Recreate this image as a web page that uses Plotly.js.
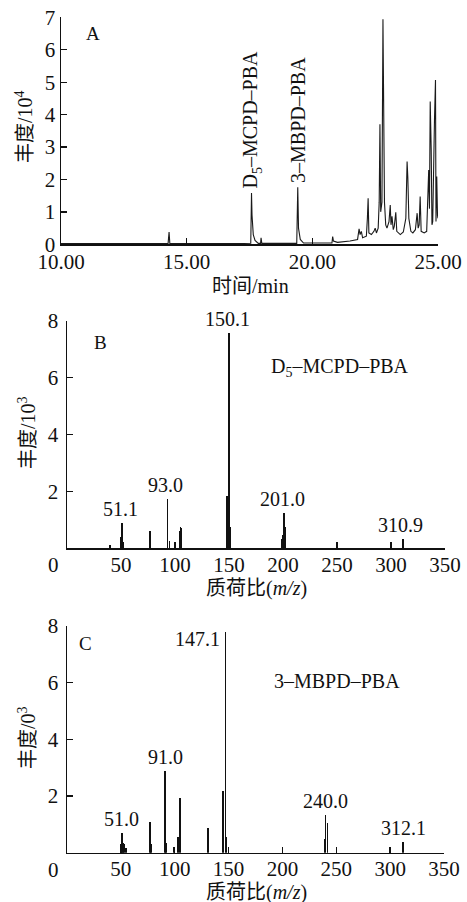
<!DOCTYPE html>
<html>
<head>
<meta charset="utf-8">
<script src="https://cdn.plot.ly/plotly-3.0.1.min.js"></script>
<style>html,body{margin:0;padding:0;background:#fff;}#chart{width:467px;height:902px;}</style>
</head>
<body>
<div id="chart"></div>
<script>
// ---------- Panel A: total ion chromatogram (time in min, abundance in 10^4) ----------
const timeA = [10.00,12.00,14.26,14.30,14.33,17.00,17.55,17.58,17.60,17.65,17.72,17.85,17.94,17.96,17.99,
  19.38,19.42,19.45,19.52,19.65,20.78,20.81,20.84,21.00,21.50,21.80,21.86,21.90,21.95,22.00,22.15,22.19,22.22,22.25,
  22.35,22.45,22.50,22.55,22.62,22.66,22.69,22.72,22.77,22.81,22.83,22.87,22.92,22.97,23.05,23.10,23.13,23.17,23.22,
  23.26,23.32,23.36,23.50,23.62,23.72,23.77,23.80,23.84,23.92,24.00,24.10,24.17,24.21,24.25,24.29,24.33,24.45,24.55,
  24.63,24.66,24.69,24.73,24.76,24.79,24.86,24.90,24.92,24.95,24.98,25.00];
const abundA = [0.02,0.02,0.02,0.38,0.03,0.02,0.03,1.58,0.90,0.30,0.12,0.03,0.03,0.20,0.03,
  0.03,1.76,0.50,0.15,0.04,0.04,0.24,0.10,0.06,0.10,0.15,0.48,0.30,0.40,0.20,0.25,0.80,1.42,0.35,
  0.30,0.40,0.50,0.35,0.50,1.30,3.70,1.00,1.30,6.94,4.85,1.30,0.60,0.50,0.70,1.21,0.60,0.86,0.45,
  0.55,0.99,0.40,0.30,0.38,0.80,2.55,2.05,0.80,0.40,0.35,0.45,0.96,0.50,0.60,1.47,0.40,0.35,0.40,
  2.29,1.10,4.40,2.91,0.60,0.70,3.83,5.07,0.70,2.09,0.90,0.80];
const ticksA = [10, 15, 20, 25];
const tickTextA = ['10.00', '15.00', '20.00', '25.00'];
const compoundNamesA = ['D<sub>5</sub>–MCPD–PBA', '3–MBPD–PBA'];
const compoundTimesA = [17.58, 19.42];

// ---------- Panel B: mass spectrum of D5-MCPD-PBA (abundance in 10^3) ----------
const mzB  = [40, 50, 51, 52, 77, 93, 95, 100, 104, 105, 106, 148, 150, 151, 199, 200, 201, 202, 311];
const intB = [0.10, 0.40, 0.87, 0.20, 0.60, 1.71, 0.25, 0.22, 0.60, 0.73, 0.72, 1.83, 7.57, 0.75, 0.30, 0.45, 1.22, 0.75, 0.33];
const peakMzB = [51, 93, 150, 201, 311];
const peakTextB = ['51.1', '93.0', '150.1', '201.0', '310.9'];

// ---------- Panel C: mass spectrum of 3-MBPD-PBA (abundance in 10^3) ----------
const mzC  = [50, 51, 52, 53, 55, 77, 78, 91, 92, 99, 103, 105, 131, 145, 147, 148, 150, 239, 240, 242, 312];
const intC = [0.30, 0.71, 0.35, 0.30, 0.15, 1.09, 0.30, 2.89, 0.35, 0.20, 0.54, 1.92, 0.88, 2.16, 7.80, 0.56, 0.20, 0.50, 1.33, 1.04, 0.37];
const peakMzC = [51, 91, 147, 240, 312];
const peakTextC = ['51.0', '91.0', '147.1', '240.0', '312.1'];

const ticksMS = [50, 100, 150, 200, 250, 300, 350];
const ticksYMS = [2, 4, 6, 8];

// ---------- styling helpers ----------
const W = 467, H = 902;
const FONT = "'Liberation Serif', 'Times New Roman', Times, 'DejaVu Serif', 'Noto Sans CJK SC', serif";
const px = x => x / W;
const py = y => 1 - y / H;
const ink = '#111';

function axisBase(extra) {
  return Object.assign({
    showline: true, linecolor: ink, linewidth: 1.5, mirror: false,
    ticks: 'inside', ticklen: 6, tickwidth: 1.3, tickcolor: ink,
    showgrid: false, zeroline: false, automargin: false, fixedrange: true,
    tickfont: {family: FONT, size: 21, color: ink}
  }, extra);
}

const traces = [
  {x: timeA, y: abundA, type: 'scatter', mode: 'lines', xaxis: 'x', yaxis: 'y',
   line: {color: '#1a1a1a', width: 1.1}, hoverinfo: 'skip'},
  {x: mzB, y: intB, type: 'bar', width: 1.4, xaxis: 'x2', yaxis: 'y2',
   marker: {color: '#111', line: {width: 0}}, hoverinfo: 'skip'},
  {x: mzC, y: intC, type: 'bar', width: 1.4, xaxis: 'x3', yaxis: 'y3',
   marker: {color: '#111', line: {width: 0}}, hoverinfo: 'skip'}
];

const ann = [];
function paperText(text, x, y, size, angle) {
  ann.push({text: text, xref: 'paper', yref: 'paper', x: px(x), y: py(y), xanchor: 'center', yanchor: 'middle',
    textangle: angle || 0, showarrow: false, font: {family: FONT, size: size, color: ink}});
}
// axis titles
paperText('丰度/10<sup>4</sup>', 24, 127, 20, -90);
paperText('时间/min', 250, 286, 20);
paperText('丰度/10<sup>3</sup>', 27, 433, 20, -90);
paperText('质荷比(<i>m/z</i>)', 256, 588, 20);
paperText('丰度/0<sup>3</sup>', 27, 738, 20, -90);
paperText('质荷比(<i>m/z</i>)', 256, 892, 20);
// panel letters
paperText('A', 93, 33, 19);
paperText('B', 100, 342, 19);
paperText('C', 85, 643, 19);
// compound names in B and C
paperText('D<sub>5</sub>–MCPD–PBA', 340, 367, 20);
paperText('3–MBPD–PBA', 337, 681, 20);
// rotated compound names above peaks in A
compoundNamesA.forEach((t, i) => {
  const k = timeA.indexOf(compoundTimesA[i]);
  ann.push({text: t, xref: 'x', yref: 'y', x: compoundTimesA[i], y: abundA[k], textangle: -90,
    xanchor: 'center', yanchor: 'bottom', yshift: 2, showarrow: false, font: {family: FONT, size: 20, color: ink}});
});
// peak labels
peakMzB.forEach((m, i) => {
  const k = mzB.indexOf(m);
  ann.push({text: peakTextB[i], xref: 'x2', yref: 'y2', x: m, y: intB[k], xanchor: 'center', yanchor: 'bottom',
    yshift: 1, xshift: -2, showarrow: false, font: {family: FONT, size: 20, color: ink}});
});
peakMzC.forEach((m, i) => {
  const k = mzC.indexOf(m);
  const top = intC[k] === Math.max(...intC);
  ann.push({text: peakTextC[i], xref: 'x3', yref: 'y3', x: m, y: intC[k],
    xanchor: top ? 'right' : 'center', yanchor: top ? 'top' : 'bottom',
    xshift: top ? -3 : 0, yshift: top ? 6 : 1, showarrow: false, font: {family: FONT, size: 20, color: ink}});
});
// origin "0" labels for the spectra
['x2', 'x3'].forEach((xa, i) => {
  ann.push({text: '0', xref: xa, yref: 'y' + (i + 2), x: 0, y: 0, xanchor: 'center', yanchor: 'top',
    xshift: -14, yshift: -3, showarrow: false, font: {family: FONT, size: 21, color: ink}});
});

const layout = {
  width: W, height: H, autosize: false,
  margin: {l: 0, r: 0, t: 0, b: 0},
  paper_bgcolor: '#fff', plot_bgcolor: '#fff',
  showlegend: false, bargap: 0,
  font: {family: FONT, color: ink},
  xaxis: axisBase({domain: [px(61), px(438)], range: [10, 25], tickvals: ticksA, ticktext: tickTextA, anchor: 'y', ticklabelstandoff: -2}),
  yaxis: axisBase({domain: [py(244.3), py(17.3)], range: [0, 7], dtick: 1, anchor: 'x'}),
  xaxis2: axisBase({domain: [px(67), px(445)], range: [0, 350], tickvals: ticksMS, anchor: 'y2', ticklabelstandoff: -3}),
  yaxis2: axisBase({domain: [py(548), py(320.7)], range: [0, 8], tickvals: ticksYMS, anchor: 'x2', ticklabelstandoff: 3}),
  xaxis3: axisBase({domain: [px(67), px(444)], range: [0, 350], tickvals: ticksMS, anchor: 'y3', ticklabelstandoff: -3}),
  yaxis3: axisBase({domain: [py(852.7), py(626)], range: [0, 8], tickvals: ticksYMS, anchor: 'x3', ticklabelstandoff: 3}),
  annotations: ann
};

Plotly.newPlot('chart', traces, layout, {staticPlot: true, displayModeBar: false});
</script>
</body>
</html>
